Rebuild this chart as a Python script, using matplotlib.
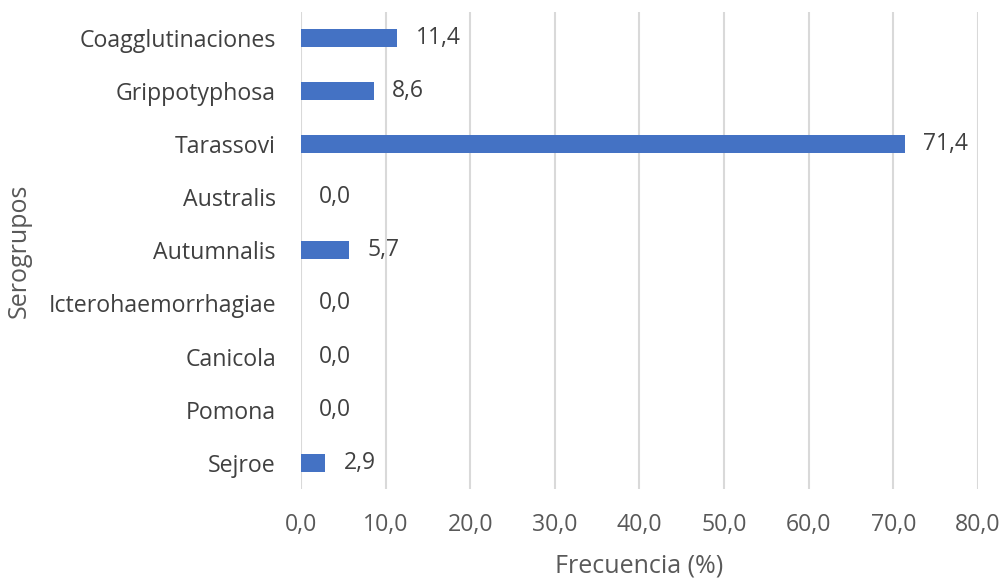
import matplotlib
matplotlib.use("Agg")
import matplotlib.pyplot as plt

serogrupos = ["Coagglutinaciones", "Grippotyphosa", "Tarassovi", "Australis",
              "Autumnalis", "Icterohaemorrhagiae", "Canicola", "Pomona", "Sejroe"]
frecuencia = [11.4, 8.6, 71.4, 0.0, 5.7, 0.0, 0.0, 0.0, 2.9]
x_ticks = [0, 10, 20, 30, 40, 50, 60, 70, 80]

plt.rcParams['font.family'] = ['Open Sans', 'DejaVu Sans']

fig = plt.figure(figsize=(10.03, 5.79), dpi=100)
ax = fig.add_axes([0.300, 0.155, 0.675, 0.825])

ypos = list(range(len(serogrupos)))
ax.barh(ypos, frecuencia, height=0.34, color="#4472C4", zorder=3)

def fmt(v):
    return f"{v:.1f}".replace(".", ",")

for y, v in zip(ypos, frecuencia):
    ax.annotate(fmt(v), xy=(v, y), xytext=(13, 0), textcoords="offset points",
                ha="left", va="center", fontsize=16.5, color="#404040")

ax.set_ylim(len(serogrupos) - 0.5, -0.5)
ax.set_xlim(0, 80)
ax.set_xticks(x_ticks)
ax.set_xticklabels([fmt(t) for t in x_ticks])
ax.set_yticks(ypos)
ax.set_yticklabels(serogrupos)

ax.grid(axis="x", color="#d9d9d9", linewidth=1.5, zorder=0)
ax.set_axisbelow(True)
for s in ax.spines.values():
    s.set_visible(False)
ax.tick_params(axis="both", length=0, labelsize=16.7, colors="#595959")
ax.tick_params(axis="y", pad=18, labelcolor="#404040")
ax.tick_params(axis="x", pad=17)

ax.set_xlabel("Frecuencia (%)", fontsize=18, color="#595959", labelpad=12)
ax.set_ylabel("Serogrupos", fontsize=18, color="#595959", labelpad=12)

fig.savefig("out.png", dpi=100)
